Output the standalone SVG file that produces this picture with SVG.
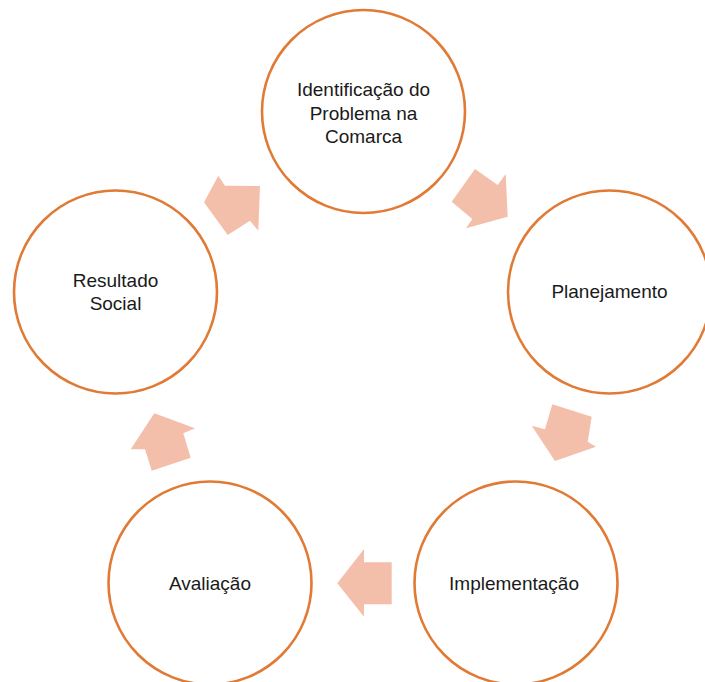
<svg xmlns="http://www.w3.org/2000/svg" width="705" height="682" viewBox="0 0 705 682">
<style>
.node{fill:#FFFFFF;stroke:#E07A35;stroke-width:2.6}
.arr{fill:#F4BFAA;stroke:none}
.lbl{font-family:"Liberation Sans",Arial,sans-serif;font-size:19px;fill:#1a1a1a;text-anchor:middle}
</style>
<rect width="705" height="682" fill="#FFFFFF"/>
<g id="connectors">
<polygon class="arr" points="218.3,175.7 225,185.7 260,186 258.3,230.7 250,220.7 227.7,235 204,202.3"/>
<polygon class="arr" points="475,169 497.7,185 505.7,174 507.7,216.7 466,228.3 472.3,219 451.7,201.7"/>
<polygon class="arr" points="552.3,404.3 591.7,416.7 587.7,441.7 596,446.7 555,461 531.7,425.7 545,429.3"/>
<polygon class="arr" points="364,549 364,562.3 391.7,562.3 391.7,604.3 364,604.3 364,616.7 337.3,583.3"/>
<polygon class="arr" points="154.3,413.3 195,428.3 183.3,433.3 190.7,457.7 151.7,470.7 145,449.3 130.7,449.3"/>
</g>
<g id="node-identificacao">
<circle class="node" cx="363.5" cy="111.5" r="101.5"/>
<text class="lbl" x="363.5" y="96">Identificação do</text>
<text class="lbl" x="363.5" y="119.5">Problema na</text>
<text class="lbl" x="363.5" y="143">Comarca</text>
</g>
<g id="node-planejamento">
<circle class="node" cx="609.5" cy="292" r="101.5"/>
<text class="lbl" x="609.5" y="298">Planejamento</text>
</g>
<g id="node-implementacao">
<circle class="node" cx="516" cy="583" r="101.5"/>
<text class="lbl" x="514" y="590">Implementação</text>
</g>
<g id="node-avaliacao">
<circle class="node" cx="210" cy="583" r="101.5"/>
<text class="lbl" x="210" y="590">Avaliação</text>
</g>
<g id="node-resultado">
<circle class="node" cx="115.5" cy="292" r="101.5"/>
<text class="lbl" x="115.5" y="286.5">Resultado</text>
<text class="lbl" x="115.5" y="310">Social</text>
</g>
</svg>
